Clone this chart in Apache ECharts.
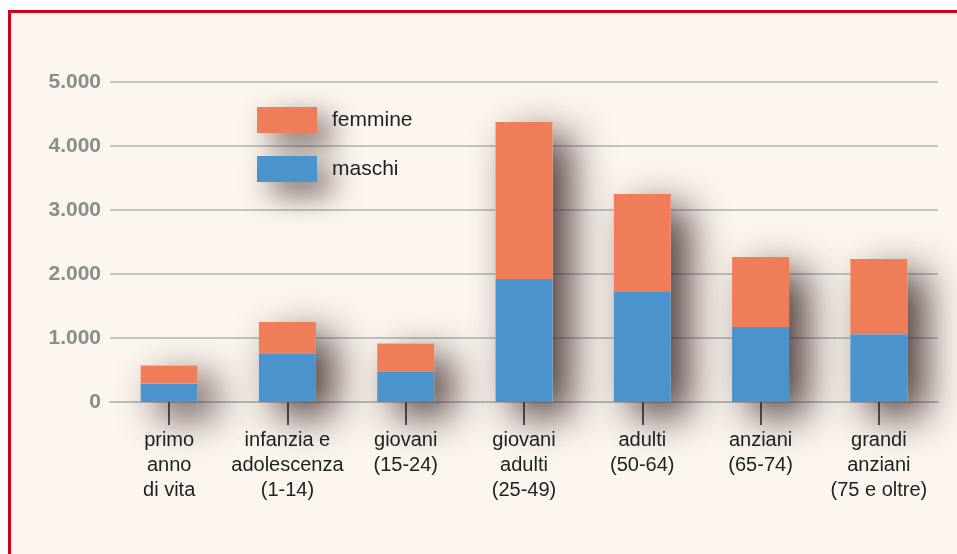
<!DOCTYPE html>
<html><head><meta charset="utf-8">
<script src="https://cdn.jsdelivr.net/npm/echarts@6/dist/echarts.min.js"></script>
<style>html,body{margin:0;padding:0;background:#fff}#c{width:957px;height:554px}</style>
</head><body><div id="c"></div>
<script>
const categories = ['primo\nanno\ndi vita','infanzia e\nadolescenza\n(1-14)','giovani\n(15-24)','giovani\nadulti\n(25-49)','adulti\n(50-64)','anziani\n(65-74)','grandi\nanziani\n(75 e oltre)'];
const maschi = [290, 760, 480, 1920, 1720, 1170, 1060];
const femmine = [280, 490, 435, 2455, 1530, 1095, 1175];
const yTicks = [0, 1000, 2000, 3000, 4000, 5000];
const totali = maschi.map((m, i) => m + femmine[i]);

const chart = echarts.init(document.getElementById('c'));
const shadow = {shadowBlur: 40, shadowColor: 'rgba(45,25,25,0.85)', shadowOffsetX: 18, shadowOffsetY: 14};
chart.setOption({
  animation: false,
  graphic: [
    {type: 'rect', z: -10, shape: {x: 8, y: 10, width: 949, height: 544}, style: {fill: '#d2001c'}},
    {type: 'rect', z: -9, shape: {x: 11, y: 13, width: 946, height: 541}, style: {fill: '#fcf6ef'}}
  ],
  grid: {left: 110, right: 19, top: 82, bottom: 152},
  legend: {
    orient: 'vertical', left: 257, top: 107, padding: 0, itemWidth: 60, itemHeight: 26, itemGap: 23,
    icon: 'rect',
    data: ['femmine', 'maschi'],
    textStyle: {fontFamily: 'Liberation Sans', fontSize: 21, color: '#222', padding: [3, 0, 0, 10]},
    itemStyle: {shadowBlur: 30, shadowColor: 'rgba(45,25,25,0.7)', shadowOffsetX: 14, shadowOffsetY: 12}
  },
  xAxis: {
    type: 'category', data: categories,
    axisLine: {lineStyle: {color: '#bdbdbd', width: 2}},
    axisTick: {show: true, alignWithLabel: true, length: 23, lineStyle: {color: '#555', width: 2}},
    axisLabel: {interval: 0, margin: 26, fontFamily: 'Liberation Sans', fontSize: 20, color: '#222', lineHeight: 25, verticalAlign: 'top'}
  },
  yAxis: {
    type: 'value', min: yTicks[0], max: yTicks[yTicks.length - 1], interval: 1000,
    axisLine: {show: false}, axisTick: {show: false},
    splitLine: {lineStyle: {color: '#c4c4c4', width: 2}},
    axisLabel: {margin: 9, fontFamily: 'Liberation Sans', fontSize: 21, fontWeight: 'bold', color: '#8c8c8c',
      formatter: v => v.toString().replace(/\B(?=(\d{3})+(?!\d))/g, '.')}
  },
  series: [
    {name: 'ombra', type: 'bar', data: totali, barWidth: 57, barGap: '-100%', z: 1, silent: true,
      itemStyle: Object.assign({color: '#fcf6ef'}, shadow)},
    {name: 'maschi', type: 'bar', stack: 't', data: maschi, barWidth: 57, barGap: '-100%', z: 3,
      itemStyle: {color: '#4a93cd'}},
    {name: 'femmine', type: 'bar', stack: 't', data: femmine, barWidth: 57, barGap: '-100%', z: 3,
      itemStyle: {color: '#ef7d58'}}
  ]
});
</script></body></html>
